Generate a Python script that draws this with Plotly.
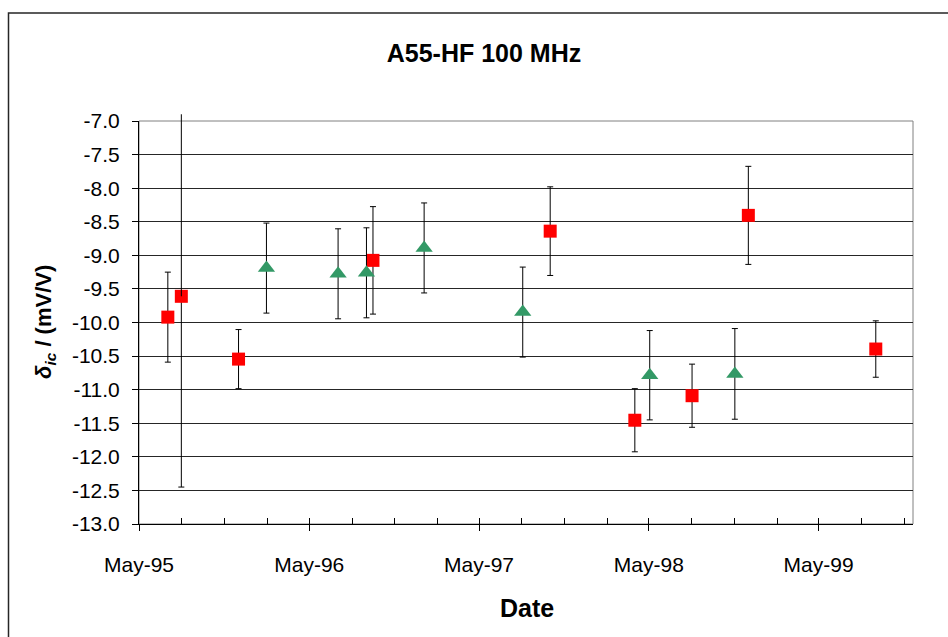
import plotly.graph_objects as go

# Red series: squares with symmetric uncertainties
red_dates = ["1995-07-02", "1995-07-31", "1995-12-01", "1996-09-15", "1997-10-01",
             "1998-04-01", "1998-08-02", "1998-12-01", "1999-09-01"]
red_vals = [-9.92, -9.61, -10.545, -9.075, -8.64, -11.455, -11.09, -8.405, -10.395]
red_err = [0.67, 2.84, 0.44, 0.80, 0.66, 0.47, 0.47, 0.73, 0.42]

# Green series: triangles with symmetric uncertainties
green_dates = ["1996-01-30", "1996-07-02", "1996-09-01", "1997-01-03", "1997-08-03",
               "1998-05-03", "1998-11-02"]
green_vals = [-9.19, -9.275, -9.26, -8.89, -9.845, -10.785, -10.765]
green_err = [0.67, 0.67, 0.67, 0.67, 0.67, 0.665, 0.675]

# Axis settings
y_ticks = [-7.0, -7.5, -8.0, -8.5, -9.0, -9.5, -10.0, -10.5, -11.0, -11.5, -12.0, -12.5, -13.0]
y_tick_text = [f"{v:.1f}" for v in y_ticks]
x_range = ["1995-05-01", "1999-11-20"]
y_range = [-13.0, -7.0]
bar_limit = -6.9  # error bars stop here, without a cap

FONT = "Liberation Sans, Arial, sans-serif"

# Page geometry (pixels)
W, H = 948, 637
L, R, T, B = 139, 35, 100, 113          # outer margins
PLOT_TOP = 121                          # top of the framed plot area
plot_w = W - L - R
paper_h = H - T - B
main_frac = (H - B - PLOT_TOP) / paper_h  # main y axis occupies the lower part


def px_x(px):
    return (px - L) / plot_w


def px_y(py):
    return (H - B - py) / paper_h


# Upper red bars that stay below the limit keep their caps; the others run
# past the frame on a taller, hidden axis and end without a cap
red_up_capped = [e if v + e <= bar_limit else 0 for v, e in zip(red_vals, red_err)]
over_idx = [i for i, (v, e) in enumerate(zip(red_vals, red_err)) if v + e > bar_limit]
units_per_px = (y_range[1] - y_range[0]) / (H - B - PLOT_TOP)
tall_range = [y_range[0], y_range[0] + units_per_px * paper_h]

fig = go.Figure()

fig.add_trace(go.Scatter(
    x=[red_dates[i] for i in over_idx],
    y=[red_vals[i] for i in over_idx],
    yaxis="y3", mode="markers",
    marker=dict(opacity=0, size=1),
    error_y=dict(type="data", symmetric=False,
                 array=[bar_limit - red_vals[i] for i in over_idx],
                 arrayminus=[0 for _ in over_idx],
                 color="black", thickness=1, width=0),
    showlegend=False, hoverinfo="skip",
))

fig.add_trace(go.Scatter(
    x=red_dates, y=red_vals, mode="markers",
    marker=dict(symbol="square", size=13, color="#FF0000", line=dict(width=0)),
    error_y=dict(type="data", symmetric=False, array=red_up_capped, arrayminus=red_err,
                 color="black", thickness=1, width=3),
    cliponaxis=False, showlegend=False,
))

fig.add_trace(go.Scatter(
    x=green_dates, y=green_vals, mode="markers",
    marker=dict(symbol="triangle-up", size=15, color="#339966", line=dict(width=0)),
    error_y=dict(type="data", array=green_err, color="black", thickness=1, width=3),
    cliponaxis=False, showlegend=False,
))

# Overlay axis carrying the inside tick marks every three months
fig.add_trace(go.Scatter(x=[], y=[], xaxis="x2", showlegend=False, hoverinfo="skip"))

fig.update_layout(
    width=W, height=H,
    margin=dict(l=L, r=R, t=T, b=B),
    paper_bgcolor="white", plot_bgcolor="rgba(0,0,0,0)",
    font=dict(family=FONT, color="black", size=21),
    title=dict(text="<b>A55-HF 100 MHz</b>", font=dict(size=25, family=FONT),
               x=484 / W, xanchor="center", xref="container",
               y=1 - 53 / H, yanchor="middle", yref="container"),
    xaxis=dict(
        type="date", range=x_range,
        tick0="1995-05-01", dtick="M12", tickformat="%b-%y",
        ticks="outside", ticklen=6, tickcolor="black", tickwidth=1,
        showline=True, linecolor="black", linewidth=1,
        showgrid=False, zeroline=False,
        tickfont=dict(size=21, family=FONT),
        ticklabelstandoff=16,
    ),
    xaxis2=dict(
        type="date", range=x_range, overlaying="x", anchor="y",
        tick0="1995-05-01", dtick="M3",
        ticks="inside", ticklen=6, tickcolor="black", tickwidth=1,
        showticklabels=False, showgrid=False, showline=False, zeroline=False,
    ),
    yaxis=dict(
        domain=[0, main_frac],
        range=y_range, tickvals=y_ticks, ticktext=y_tick_text,
        ticks="outside", ticklen=6, tickcolor="black", tickwidth=1,
        showline=True, linecolor="black", linewidth=1,
        showgrid=True, gridcolor="#262626", gridwidth=1, zeroline=False,
        tickfont=dict(size=21, family=FONT),
        ticklabelstandoff=8,
    ),
    yaxis3=dict(
        domain=[0, 1], range=tall_range, anchor="x", visible=False,
        showgrid=False, zeroline=False,
    ),
    shapes=[
        # plot area frame
        dict(type="rect", xref="x domain", yref="y domain", x0=0, x1=1, y0=0, y1=1,
             line=dict(color="#808080", width=1), layer="below"),
        # chart border (left and top edges)
        dict(type="path", xref="paper", yref="paper",
             path=f"M {px_x(8.5)},{px_y(640)} L {px_x(8.5)},{px_y(13)} "
                  f"L {px_x(950)},{px_y(13)}",
             line=dict(color="#262626", width=1.5)),
    ],
    annotations=[
        dict(text="<b><i>δ</i><sub><i>ic</i></sub> / (mV/V)</b>", textangle=-90,
             xref="paper", yref="paper", x=px_x(45), y=px_y(322),
             xanchor="center", yanchor="middle", showarrow=False,
             font=dict(size=22, family=FONT)),
        dict(text="<b>Date</b>",
             xref="paper", yref="paper", x=px_x(527), y=px_y(608),
             xanchor="center", yanchor="middle", showarrow=False,
             font=dict(size=25, family=FONT)),
    ],
)

fig.write_html("out.html")
